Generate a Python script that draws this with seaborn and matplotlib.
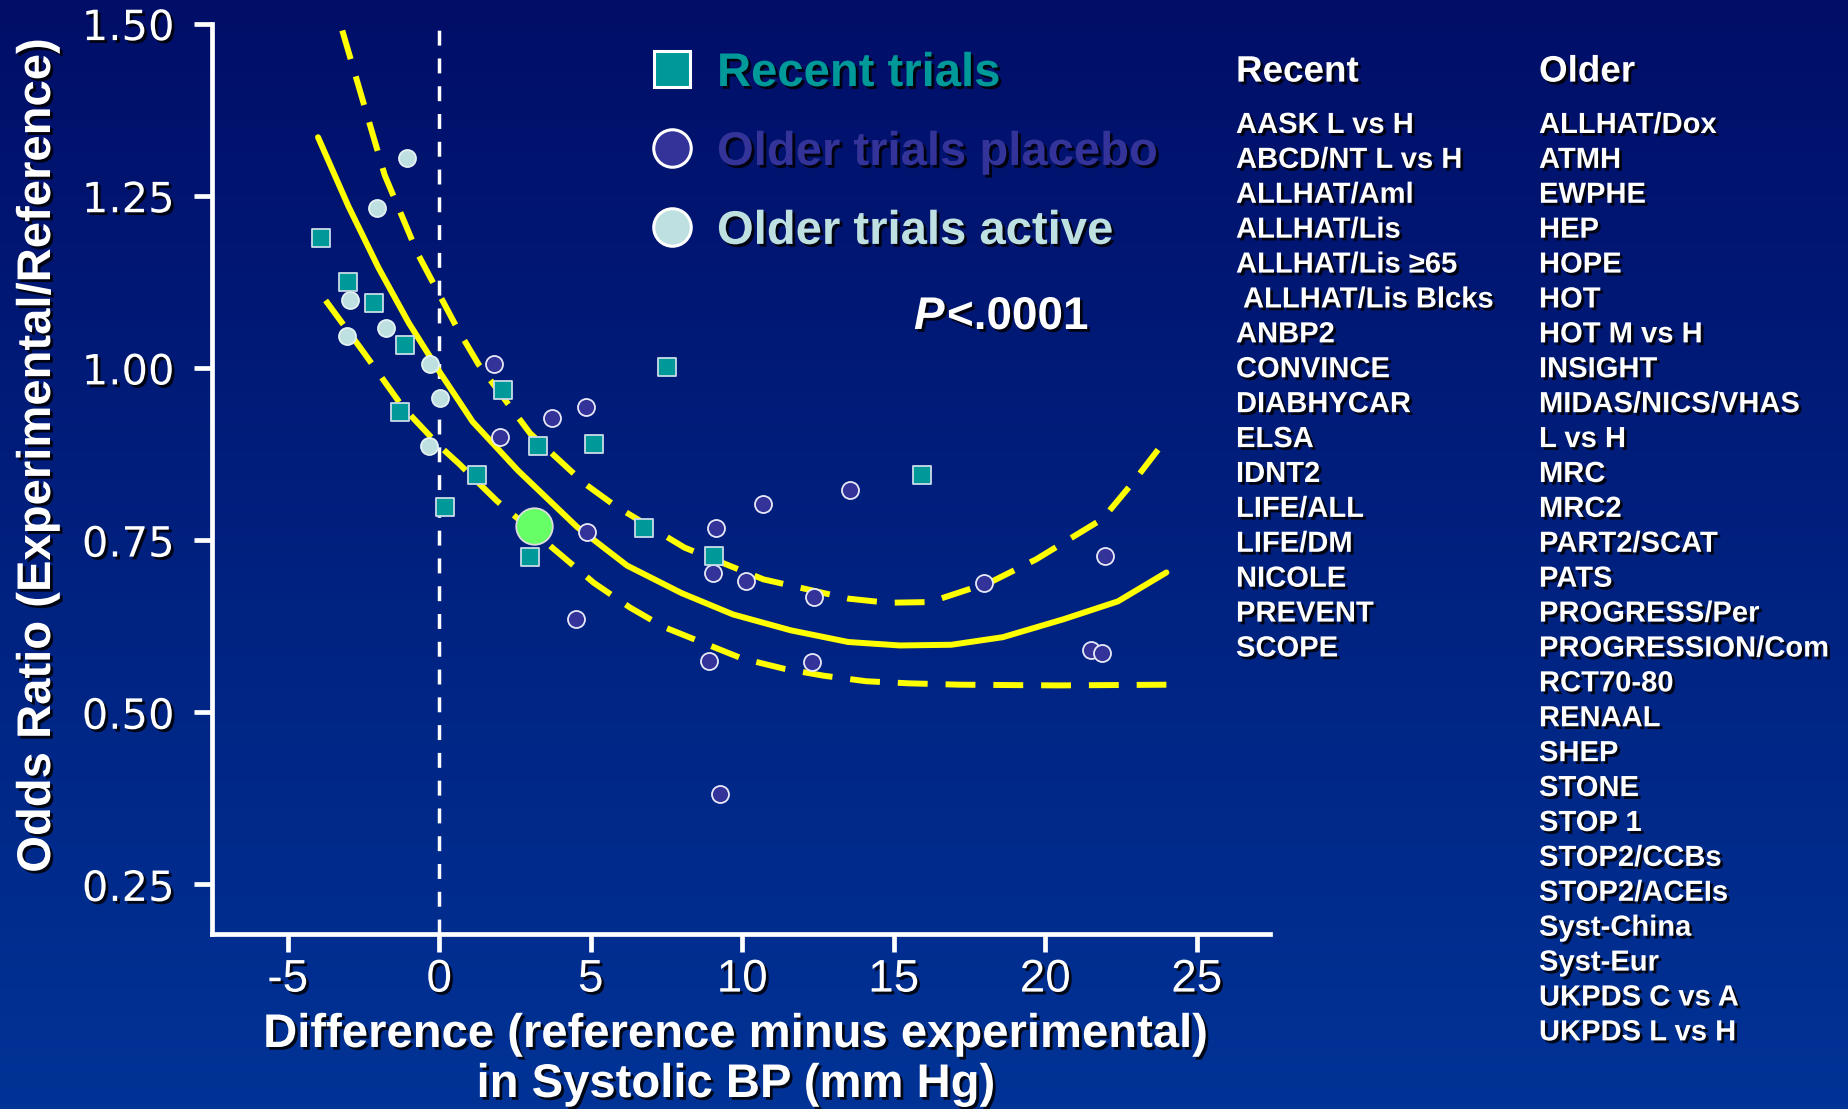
import numpy as np
import pandas as pd
import matplotlib
matplotlib.use("Agg")
import matplotlib.pyplot as plt
import matplotlib.patheffects as pe
from matplotlib.lines import Line2D
from matplotlib import font_manager
import seaborn as sns

# ---------------- data ----------------
recent_x = [-3.90, -3.00, -2.15, -1.13, -1.31, 2.09, 1.25, 0.19, 3.27, 5.10, 3.01, 6.75, 7.51, 9.06, 15.95]
recent_y = [1.188, 1.125, 1.094, 1.033, 0.936, 0.968, 0.845, 0.798, 0.887, 0.889, 0.725, 0.768, 1.002, 0.727, 0.845]

active_x = [-1.06, -2.05, -2.93, -1.75, -3.04, -0.29, 0.01, -0.33]
active_y = [1.305, 1.232, 1.098, 1.058, 1.047, 1.006, 0.957, 0.887]

placebo_x = [1.82, 1.99, 3.73, 4.83, 4.88, 4.53, 3.34, 9.14, 9.05, 10.11, 10.69, 8.90, 12.37, 12.31,
             13.57, 9.26, 17.97, 21.99, 21.50, 21.86]
placebo_y = [1.006, 0.899, 0.927, 0.943, 0.762, 0.636, 0.761, 0.768, 0.702, 0.690, 0.802, 0.575, 0.668, 0.573,
             0.823, 0.381, 0.688, 0.727, 0.590, 0.586]

highlight_x = [3.13]
highlight_y = [0.771]

solid_x = [-4.0, -3.0, -2.0, -1.0, 0.0, 1.1, 2.6, 4.55, 6.2, 8.0, 9.7, 11.6, 13.5, 15.2, 16.9, 18.6, 20.6, 22.4, 24.0]
solid_y = [1.335, 1.235, 1.145, 1.065, 0.995, 0.922, 0.851, 0.769, 0.713, 0.673, 0.642, 0.619, 0.602, 0.597,
           0.598, 0.609, 0.635, 0.661, 0.703]

upper_x = [-3.2, -2.6, -1.8, -0.7, 0.6, 1.3, 3.0, 4.8, 5.8, 8.1, 10.7, 13.5, 14.8, 16.2, 18.2, 19.7, 21.9, 22.9, 24.0]
upper_y = [1.49, 1.40, 1.28, 1.165, 1.057, 1.005, 0.905, 0.832, 0.800, 0.739, 0.693, 0.665, 0.659, 0.660,
           0.689, 0.722, 0.781, 0.834, 0.897]

lower_x = [-3.75, -2.5, -1.2, 0.0, 0.65, 1.9, 4.0, 5.1, 6.3, 7.4, 8.7, 10.0, 11.4, 12.7, 14.1, 15.5, 17.2, 20.4, 24.0]
lower_y = [1.098, 1.023, 0.943, 0.887, 0.861, 0.807, 0.729, 0.688, 0.652, 0.624, 0.601, 0.578, 0.563, 0.553,
           0.545, 0.542, 0.540, 0.539, 0.540]

x_ticks = [-5, 0, 5, 10, 15, 20, 25]
x_tick_labels = ["-5", "0", "5", "10", "15", "20", "25"]
y_ticks = [0.25, 0.50, 0.75, 1.00, 1.25, 1.50]
y_tick_labels = ["0.25", "0.50", "0.75", "1.00", "1.25", "1.50"]

legend_labels = ["Recent trials", "Older trials placebo", "Older trials active"]

recent_names = ["AASK L vs H", "ABCD/NT L vs H", "ALLHAT/Aml", "ALLHAT/Lis", "ALLHAT/Lis \u226565",
                " ALLHAT/Lis Blcks", "ANBP2", "CONVINCE", "DIABHYCAR", "ELSA", "IDNT2", "LIFE/ALL",
                "LIFE/DM", "NICOLE", "PREVENT", "SCOPE"]
older_names = ["ALLHAT/Dox", "ATMH", "EWPHE", "HEP", "HOPE", "HOT", "HOT M vs H", "INSIGHT",
               "MIDAS/NICS/VHAS", "L vs H", "MRC", "MRC2", "PART2/SCAT", "PATS", "PROGRESS/Per",
               "PROGRESSION/Com", "RCT70-80", "RENAAL", "SHEP", "STONE", "STOP 1", "STOP2/CCBs",
               "STOP2/ACEIs", "Syst-China", "Syst-Eur", "UKPDS C vs A", "UKPDS L vs H"]

# ---------------- style ----------------
sns.set_theme(style="white")
plt.rcParams['font.family'] = ['Liberation Sans', 'DejaVu Sans']


def has_font(name):
    try:
        font_manager.findfont(font_manager.FontProperties(family=name), fallback_to_default=False)
        return True
    except Exception:
        return False


narrow = 'Liberation Sans Narrow' if has_font('Liberation Sans Narrow') else 'Liberation Sans'

TEAL = '#009999'
PURPLE = '#333399'
LIGHT = '#BFE0E0'
YELLOW = '#FFFF00'
shadow = [pe.withSimplePatchShadow(offset=(2.0, -2.0), shadow_rgbFace='black', alpha=0.85)]

W, H = 1849, 1109
fig = plt.figure(figsize=(W / 100, H / 100), dpi=100)

# gradient background
bg = fig.add_axes([0, 0, 1, 1], zorder=-10)
top_c = np.array([0, 14, 104]) / 255
bot_c = np.array([0, 51, 150]) / 255
t = np.linspace(0, 1, 256)[:, None, None]
grad = top_c * (1 - t) + bot_c * t
bg.imshow(grad, aspect='auto', extent=[0, 1, 0, 1], origin='upper')
bg.set_axis_off()

ax = fig.add_axes([212 / W, 1 - 934 / H, (1270 - 212) / W, (934 - 23.6) / H])
ax.patch.set_alpha(0)

# curves
sns.lineplot(x=solid_x, y=solid_y, ax=ax, color=YELLOW, lw=4.3, estimator=None, sort=False, zorder=3)
sns.lineplot(x=upper_x, y=upper_y, ax=ax, color=YELLOW, lw=4.3, estimator=None, sort=False, zorder=3)
ax.lines[-1].set_dashes([5, 3])
sns.lineplot(x=lower_x, y=lower_y, ax=ax, color=YELLOW, lw=4.3, estimator=None, sort=False, zorder=3)
ax.lines[-1].set_dashes([5, 3])

ax.axvline(0, color='white', lw=2.5, dashes=(4.3, 3.7), zorder=2)

# points
df_recent = pd.DataFrame({'x': recent_x, 'y': recent_y})
df_active = pd.DataFrame({'x': active_x, 'y': active_y})
df_placebo = pd.DataFrame({'x': placebo_x, 'y': placebo_y})
df_high = pd.DataFrame({'x': highlight_x, 'y': highlight_y})

sns.scatterplot(data=df_placebo, x='x', y='y', marker='o', s=150, color=PURPLE, edgecolor='#E8E8F8',
                linewidth=1.3, ax=ax, zorder=5, legend=False)
sns.scatterplot(data=df_active, x='x', y='y', marker='o', s=150, color=LIGHT, edgecolor='#E4F2F2',
                linewidth=1.3, ax=ax, zorder=5, legend=False)
sns.scatterplot(data=df_recent, x='x', y='y', marker='s', s=165, color=TEAL, edgecolor='#C8DCE8',
                linewidth=1.3, ax=ax, zorder=6, legend=False)
sns.scatterplot(data=df_high, x='x', y='y', marker='o', s=690, color='#66FF66', edgecolor='#DDDDDD',
                linewidth=1.3, ax=ax, zorder=7, legend=False)

ax.set_xlim(-7.5, 27.42)
ax.set_ylim(0.178, 1.5)
ax.set_xlabel('')
ax.set_ylabel('')

# axes styling
for side in ['top', 'right']:
    ax.spines[side].set_visible(False)
for side in ['left', 'bottom']:
    ax.spines[side].set_color('white')
    ax.spines[side].set_linewidth(3.4)
    ax.spines[side].set_capstyle('projecting')

ax.set_xticks(x_ticks)
ax.set_xticklabels(x_tick_labels)
ax.set_yticks(y_ticks)
ax.set_yticklabels(y_tick_labels)
ax.tick_params(axis='both', colors='white', width=3.4, length=13, direction='out')
ax.tick_params(axis='y', left=True, pad=14)
ax.tick_params(axis='x', bottom=True, pad=4)
for lbl in ax.get_yticklabels():
    lbl.set_fontfamily('DejaVu Sans')
    lbl.set_fontsize(30)
    lbl.set_color('white')
    lbl.set_path_effects(shadow)
for lbl in ax.get_xticklabels():
    lbl.set_fontfamily(narrow)
    lbl.set_fontsize(37 if narrow != 'Liberation Sans' else 33)
    lbl.set_color('white')
    lbl.set_path_effects(shadow)

# axis titles
fig.text(736 / W, 1 - 1047 / H, "Difference (reference minus experimental)", ha='center', va='baseline',
         fontsize=34, fontweight='bold', color='white', path_effects=shadow)
fig.text(736 / W, 1 - 1097 / H, "in Systolic BP (mm Hg)", ha='center', va='baseline',
         fontsize=34, fontweight='bold', color='white', path_effects=shadow)
fig.text(38 / W, 1 - 455 / H, "Odds Ratio (Experimental/Reference)", rotation=90, ha='center', va='center',
         fontsize=34, fontweight='bold', color='white', path_effects=shadow)

# legend
handles = [
    Line2D([], [], ls='', marker='s', ms=26, mfc=TEAL, mec='white', mew=2.2, label=legend_labels[0]),
    Line2D([], [], ls='', marker='o', ms=27, mfc=PURPLE, mec='white', mew=2.2, label=legend_labels[1]),
    Line2D([], [], ls='', marker='o', ms=27, mfc=LIGHT, mec='white', mew=2.2, label=legend_labels[2]),
]
leg = ax.legend(handles=handles, loc='upper left', bbox_to_anchor=(648.5 / W, 1 - 52 / H),
                bbox_transform=fig.transFigure, frameon=False,
                prop=dict(family='Liberation Sans', weight='bold', size=34),
                handlelength=1.0, handletextpad=0.45, labelspacing=0.74, borderpad=0, borderaxespad=0,
                labelcolor=[TEAL, PURPLE, LIGHT])
for txt in leg.get_texts():
    txt.set_path_effects(shadow)

# P value
fig.text(914 / W, 1 - 329 / H, "P", ha='left', va='baseline', fontsize=33, fontweight='bold',
         fontstyle='italic', color='white', path_effects=shadow)
fig.text(947 / W, 1 - 329 / H, "<.0001", ha='left', va='baseline', fontsize=33, fontweight='bold',
         color='white', path_effects=shadow)

# trial lists
fig.text(1236 / W, 1 - 81.6 / H, "Recent", ha='left', va='baseline', fontsize=26.5, fontweight='bold',
         color='white', path_effects=shadow)
fig.text(1539 / W, 1 - 81.6 / H, "Older", ha='left', va='baseline', fontsize=26.5, fontweight='bold',
         color='white', path_effects=shadow)
for i, name in enumerate(recent_names):
    fig.text(1236 / W, 1 - (133 + i * 34.9) / H, name, ha='left', va='baseline', fontsize=21,
             fontweight='bold', color='white', path_effects=shadow,
             family=['Liberation Sans', 'DejaVu Sans'])
for i, name in enumerate(older_names):
    fig.text(1539 / W, 1 - (133 + i * 34.9) / H, name, ha='left', va='baseline', fontsize=21,
             fontweight='bold', color='white', path_effects=shadow)

fig.savefig("out.png", dpi=100)
